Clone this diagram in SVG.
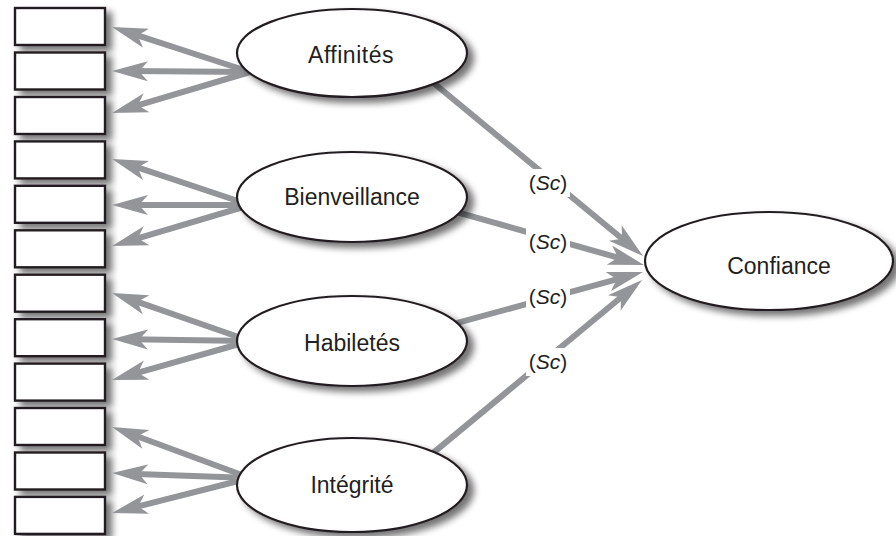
<svg xmlns="http://www.w3.org/2000/svg" width="896" height="536" viewBox="0 0 896 536">
<defs>
<filter id="shadow" x="-20%" y="-20%" width="150%" height="160%">
<feGaussianBlur in="SourceAlpha" stdDeviation="3.5"/>
<feOffset dx="6" dy="5" result="b"/>
<feComponentTransfer><feFuncA type="linear" slope="0.55"/></feComponentTransfer>
<feMerge><feMergeNode/><feMergeNode in="SourceGraphic"/></feMerge>
</filter>
<marker id="ah" viewBox="0 0 36 21" refX="18" refY="10.5" markerWidth="36" markerHeight="21" markerUnits="userSpaceOnUse" orient="auto">
<path d="M36,10.5 L0,0.5 L9,10.5 L0,20.5 Z" fill="#939598"/>
</marker>
</defs>
<style>
.box{fill:#fff;stroke:#231f20;stroke-width:2.4}
.node{fill:#fff;stroke:#231f20;stroke-width:2.2}
.lbl{font-family:"Liberation Sans",Arial,sans-serif;font-size:23px;fill:#231f20;text-anchor:middle}
.sc{font-family:"Liberation Sans",Arial,sans-serif;font-size:21px;fill:#231f20;text-anchor:middle}
.ca{fill:none;stroke:#939598;stroke-width:6;marker-end:url(#ah)}
</style>
<rect width="896" height="536" fill="#fff"/>

<g id="indicators" filter="url(#shadow)">
<rect id="i1" class="box" x="15" y="8" width="90" height="37"/>
<rect id="i2" class="box" x="15" y="52.5" width="90" height="37"/>
<rect id="i3" class="box" x="15" y="97" width="90" height="37"/>
<rect id="i4" class="box" x="15" y="141.4" width="90" height="37"/>
<rect id="i5" class="box" x="15" y="185.8" width="90" height="37"/>
<rect id="i6" class="box" x="15" y="230.3" width="90" height="37"/>
<rect id="i7" class="box" x="15" y="274.7" width="90" height="37"/>
<rect id="i8" class="box" x="15" y="319.2" width="90" height="37"/>
<rect id="i9" class="box" x="15" y="363.6" width="90" height="37"/>
<rect id="i10" class="box" x="15" y="408" width="90" height="37"/>
<rect id="i11" class="box" x="15" y="452.5" width="90" height="37"/>
<rect id="i12" class="box" x="15" y="496.9" width="90" height="37"/>
</g>

<g id="connectors">
<path class="ca" d="M250,72 L129.1,32.6"/>
<path class="ca" d="M250,72 L130,71.1"/>
<path class="ca" d="M250,72 L129.3,107.9"/>
<path class="ca" d="M250,205 L129.1,164.7"/>
<path class="ca" d="M250,205 L130,205"/>
<path class="ca" d="M250,205 L129.3,240.9"/>
<path class="ca" d="M250,341 L129,298.9"/>
<path class="ca" d="M250,341 L130,339.3"/>
<path class="ca" d="M250,341 L129.3,375.1"/>
<path class="ca" d="M250,478 L128.9,433.2"/>
<path class="ca" d="M250,478 L130,473.7"/>
<path class="ca" d="M250,478 L129.4,508.6"/>
<path class="ca" d="M430,80 L629.1,244.5"/>
<path class="ca" d="M440,207.3 L626.7,260.1"/>
<path class="ca" d="M440,327.7 L625.6,276.8"/>
<path class="ca" d="M425,459.6 L628.1,291.5"/>
</g>

<g id="labels">
<rect x="526" y="169" width="44" height="28" fill="#fff"/>
<text class="sc" x="548" y="190">(<tspan font-style="italic">Sc</tspan>)</text>
<rect x="526" y="228" width="44" height="28" fill="#fff"/>
<text class="sc" x="548" y="249">(<tspan font-style="italic">Sc</tspan>)</text>
<rect x="526" y="283" width="44" height="28" fill="#fff"/>
<text class="sc" x="548" y="304">(<tspan font-style="italic">Sc</tspan>)</text>
<rect x="526" y="348" width="44" height="28" fill="#fff"/>
<text class="sc" x="548" y="369">(<tspan font-style="italic">Sc</tspan>)</text>
</g>

<g id="affinites">
<ellipse class="node" cx="352" cy="53" rx="115" ry="44" filter="url(#shadow)"/>
<text class="lbl" x="351" y="62.5" letter-spacing="0.5">Affinités</text>
</g>
<g id="bienveillance">
<ellipse class="node" cx="352" cy="197" rx="115" ry="45" filter="url(#shadow)"/>
<text class="lbl" x="352" y="205">Bienveillance</text>
</g>
<g id="habiletes">
<ellipse class="node" cx="352" cy="341" rx="115" ry="45" filter="url(#shadow)"/>
<text class="lbl" x="352" y="351">Habiletés</text>
</g>
<g id="integrite">
<ellipse class="node" cx="352" cy="485" rx="115" ry="47" filter="url(#shadow)"/>
<text class="lbl" x="352" y="493">Intégrité</text>
</g>
<g id="confiance">
<ellipse class="node" cx="769" cy="261" rx="124" ry="49" filter="url(#shadow)"/>
<text class="lbl" x="779" y="274">Confiance</text>
</g>
</svg>
